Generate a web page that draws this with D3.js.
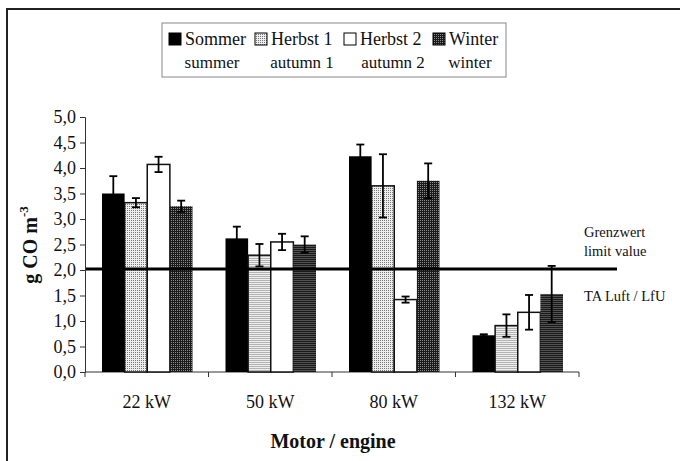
<!DOCTYPE html>
<html><head><meta charset="utf-8">
<script src="https://cdn.jsdelivr.net/npm/d3@7"></script>
<style>
html,body{margin:0;padding:0;background:#fff;}
svg, svg text{font-family:"Liberation Serif","DejaVu Serif","Noto Serif",Tinos,"Times New Roman",serif !important;}
</style></head>
<body>
<svg id="c" width="680" height="461"></svg>
<script>
// ---- data ----
const categories = ["22 kW", "50 kW", "80 kW", "132 kW"];
const seriesKeys = ["sommer", "herbst1", "herbst2", "winter"];
const seriesLabelsDe = ["Sommer", "Herbst 1", "Herbst 2", "Winter"];
const seriesLabelsEn = ["summer", "autumn 1", "autumn 2", "winter"];
const sommer  = [3.50, 2.62, 4.23, 0.72];
const herbst1 = [3.32, 2.29, 3.65, 0.91];
const herbst2 = [4.07, 2.55, 1.42, 1.17];
const winter  = [3.25, 2.50, 3.75, 1.53];
const sommerErr  = [0.34, 0.23, 0.23, 0.02];
const herbst1Err = [0.09, 0.22, 0.62, 0.22];
const herbst2Err = [0.15, 0.16, 0.06, 0.34];
const winterErr  = [0.11, 0.16, 0.34, 0.55];
const yTicks = [0, 0.5, 1, 1.5, 2, 2.5, 3, 3.5, 4, 4.5, 5];
const limitValue = 2.0;
const limitLabels = ["Grenzwert", "limit value", "TA Luft / LfU"];

const FONT = '"Liberation Serif","DejaVu Serif","Noto Serif",Tinos,"Times New Roman",serif';
const values = {sommer, herbst1, herbst2, winter};
const errs = {sommer: sommerErr, herbst1: herbst1Err, herbst2: herbst2Err, winter: winterErr};
const fills = {sommer: "#000", herbst1: "url(#pLight)", herbst2: "#fff", winter: "url(#pDark)"};

const svg = d3.select("#c").attr("font-family", FONT);
const defs = svg.append("defs");
// light stipple
const pl = defs.append("pattern").attr("id","pLight").attr("patternUnits","userSpaceOnUse").attr("width",2).attr("height",2);
pl.append("rect").attr("width",2).attr("height",2).attr("fill","#eeeeee");
pl.append("rect").attr("width",1).attr("height",1).attr("fill","#777");
// dark stipple
const pd = defs.append("pattern").attr("id","pDark").attr("patternUnits","userSpaceOnUse").attr("width",2).attr("height",2);
pd.append("rect").attr("width",2).attr("height",2).attr("fill","#1a1a1a");
pd.append("rect").attr("width",1).attr("height",1).attr("fill","#8a8a8a");

// outer frame (left + top)
svg.append("line").attr("x1",7).attr("x2",7).attr("y1",9).attr("y2",461).attr("stroke","#222").attr("stroke-width",2);
svg.append("line").attr("x1",6).attr("x2",680).attr("y1",9).attr("y2",9).attr("stroke","#222").attr("stroke-width",2);

// scales
const y = d3.scaleLinear().domain([0,5]).range([372,117]);
const x0 = d3.scaleBand().domain(categories).range([85,579]).padding(0);
const x1 = d3.scaleBand().domain(seriesKeys).range([17, x0.bandwidth()-16]).padding(0);

// y axis
const yAxis = d3.axisLeft(y).tickValues(yTicks).tickSize(5).tickPadding(4)
  .tickFormat(d => d3.format(".1f")(d).replace(".", ","));
const gy = svg.append("g").attr("transform","translate(85,0)").call(yAxis)
  .attr("font-family", FONT).attr("font-size", 18);
gy.select(".domain").attr("stroke","#333");
gy.selectAll(".tick line").attr("stroke","#333");
gy.selectAll("text").attr("fill","#111");

// x axis
const gx = svg.append("g").attr("transform","translate(0,372)");
gx.append("line").attr("x1",x0.range()[0]).attr("x2",x0.range()[1]).attr("stroke","#333");
const bounds = categories.map(c => x0(c)).concat([x0.range()[1]]);
gx.selectAll("line.bt").data(bounds).enter().append("line").attr("class","bt")
  .attr("x1",d=>d).attr("x2",d=>d).attr("y1",0).attr("y2",5).attr("stroke","#333");
gx.selectAll("text.cl").data(categories).enter().append("text").attr("class","cl")
  .attr("x",d=>x0(d)+x0.bandwidth()/2).attr("y",36).attr("text-anchor","middle")
  .attr("font-size",18).attr("fill","#111").text(d=>d);

// bars
const groups = svg.append("g").selectAll("g").data(categories).enter().append("g")
  .attr("transform", d => `translate(${x0(d)},0)`);
seriesKeys.forEach(k => {
  groups.append("rect")
    .attr("x", x1(k)).attr("width", x1.bandwidth())
    .attr("y", (d,i) => y(values[k][i]))
    .attr("height", (d,i) => y(0) - y(values[k][i]))
    .attr("fill", fills[k])
    .attr("stroke", k==="herbst1"||k==="herbst2" ? "#111" : "none")
    .attr("stroke-width", 1.5);
});

// limit line
svg.append("line").attr("x1",86).attr("x2",617).attr("y1",y(limitValue)-1).attr("y2",y(limitValue)-1)
  .attr("stroke","#000").attr("stroke-width",3);

// error bars
seriesKeys.forEach(k => {
  const eg = groups.append("g").attr("stroke","#000").attr("stroke-width",1.8);
  const cx = x1(k) + x1.bandwidth()/2;
  eg.append("line").attr("x1",cx).attr("x2",cx)
    .attr("y1",(d,i)=>y(values[k][i]+errs[k][i])).attr("y2",(d,i)=>y(values[k][i]-errs[k][i]));
  eg.append("line").attr("x1",cx-4).attr("x2",cx+4)
    .attr("y1",(d,i)=>y(values[k][i]+errs[k][i])).attr("y2",(d,i)=>y(values[k][i]+errs[k][i]));
  eg.append("line").attr("x1",cx-4).attr("x2",cx+4)
    .attr("y1",(d,i)=>y(values[k][i]-errs[k][i])).attr("y2",(d,i)=>y(values[k][i]-errs[k][i]));
});

// limit labels
const ll = svg.append("g").attr("font-size",14.5).attr("fill","#111");
ll.append("text").attr("x",584).attr("y",y(limitValue)-33).text(limitLabels[0]);
ll.append("text").attr("x",584).attr("y",y(limitValue)-14).text(limitLabels[1]);
ll.append("text").attr("x",584).attr("y",y(limitValue)+31).text(limitLabels[2]);

// axis titles
svg.append("text").attr("x",333).attr("y",448).attr("text-anchor","middle")
  .attr("font-size",20).attr("font-weight","bold").attr("fill","#111").text("Motor / engine");
const yt = svg.append("text").attr("transform","translate(37,245) rotate(-90)").attr("text-anchor","middle")
  .attr("font-size",20).attr("font-weight","bold").attr("fill","#111");
yt.append("tspan").text("g CO m");
yt.append("tspan").attr("font-size",13).attr("dy",-9).text("-3");

// legend
const lg = svg.append("g");
lg.append("rect").attr("x",162).attr("y",23).attr("width",344).attr("height",54)
  .attr("fill","none").attr("stroke","#888").attr("stroke-width",1);
const swX = [169, 255, 344, 433];
const enX = [212, 302, 393, 470];
seriesKeys.forEach((k,i) => {
  lg.append("rect").attr("x",swX[i]).attr("y",33).attr("width",12).attr("height",12)
    .attr("fill",fills[k]).attr("stroke","#000").attr("stroke-width",1);
  lg.append("text").attr("x",swX[i]+16).attr("y",45).attr("font-size",18).attr("fill","#111").text(seriesLabelsDe[i]);
  lg.append("text").attr("x",enX[i]).attr("y",68).attr("font-size",17).attr("fill","#111")
    .attr("text-anchor","middle").text(seriesLabelsEn[i]);
});
</script>
</body></html>
